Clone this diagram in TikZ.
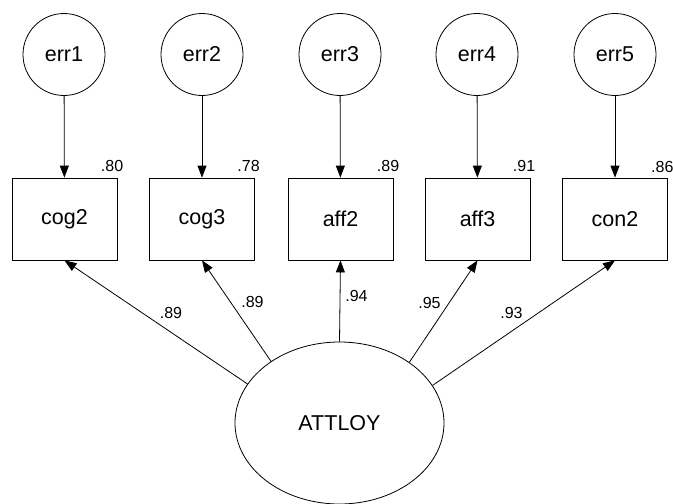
\documentclass[tikz,border=0pt]{standalone}
\usepackage{fontspec}
\setmainfont{Liberation Sans}
\usetikzlibrary{arrows.meta,shapes.geometric}
\begin{document}
\begin{tikzpicture}[x=1pt,y=-1pt,
  every node/.style={font=\fontsize{21.5}{24}\selectfont},
  errc/.style={circle,draw,line width=0.8pt,minimum size=82pt,inner sep=0pt},
  obsbox/.style={rectangle,draw,line width=0.8pt,minimum width=105pt,minimum height=82pt,inner sep=0pt},
  latent/.style={ellipse,draw,line width=0.8pt,minimum width=209pt,minimum height=162pt,inner sep=0pt},
  coef/.style={inner sep=0pt,font=\fontsize{16}{18}\selectfont},
  arr/.style={line width=0.8pt,-{Triangle[length=12pt,width=9pt]}}]
\useasboundingbox (0,0) rectangle (673,504);
% error terms
\node[errc] (e1) at (64,54.5) {err1};
\node[errc] (e2) at (202,54.5) {err2};
\node[errc] (e3) at (340,54.5) {err3};
\node[errc] (e4) at (477,54.5) {err4};
\node[errc] (e5) at (615,54.5) {err5};
% observed
\node[obsbox] (b1) at (64.5,219) {cog2};
\node[obsbox] (b2) at (202,219) {cog3};
\node[obsbox] (b3) at (340.5,219) {aff2};
\node[obsbox] (b4) at (477.5,219) {aff3};
\node[obsbox] (b5) at (615,219) {con2};
% latent
\node[latent] (att) at (339.5,423) {ATTLOY};
% error arrows
\draw[arr] (e1) -- (b1);
\draw[arr] (e2) -- (b2);
\draw[arr] (e3) -- (b3);
\draw[arr] (e4) -- (b4);
\draw[arr] (e5) -- (b5);
% loadings
\draw[arr] (att.157.7) -- (b1.south);
\draw[arr] (att.138.3) -- (b2.south);
\draw[arr] (att.north) -- (b3.south);
\draw[arr] (att.41.7) -- (b4.south);
\draw[arr] (att.22.3) -- (b5.south);
% squared multiple correlations
\node[coef,anchor=base east] (r1) at ([xshift=6pt,yshift=6pt]b1.north east) {.80};
\node[coef,anchor=base east] (r2) at ([xshift=5pt,yshift=6pt]b2.north east) {.78};
\node[coef,anchor=base east] (r3) at ([xshift=6pt,yshift=6pt]b3.north east) {.89};
\node[coef,anchor=base east] (r4) at ([xshift=5pt,yshift=6pt]b4.north east) {.91};
\node[coef,anchor=base west] (r5) at (651,172) {.86};
% loading labels
\node[coef] (l1) at (171,313) {.89};
\node[coef] (l2) at (252.5,302) {.89};
\node[coef] (l3) at (356.5,296) {.94};
\node[coef] (l4) at (429.5,303) {.95};
\node[coef] (l5) at (511.5,313) {.93};
\end{tikzpicture}
\end{document}
